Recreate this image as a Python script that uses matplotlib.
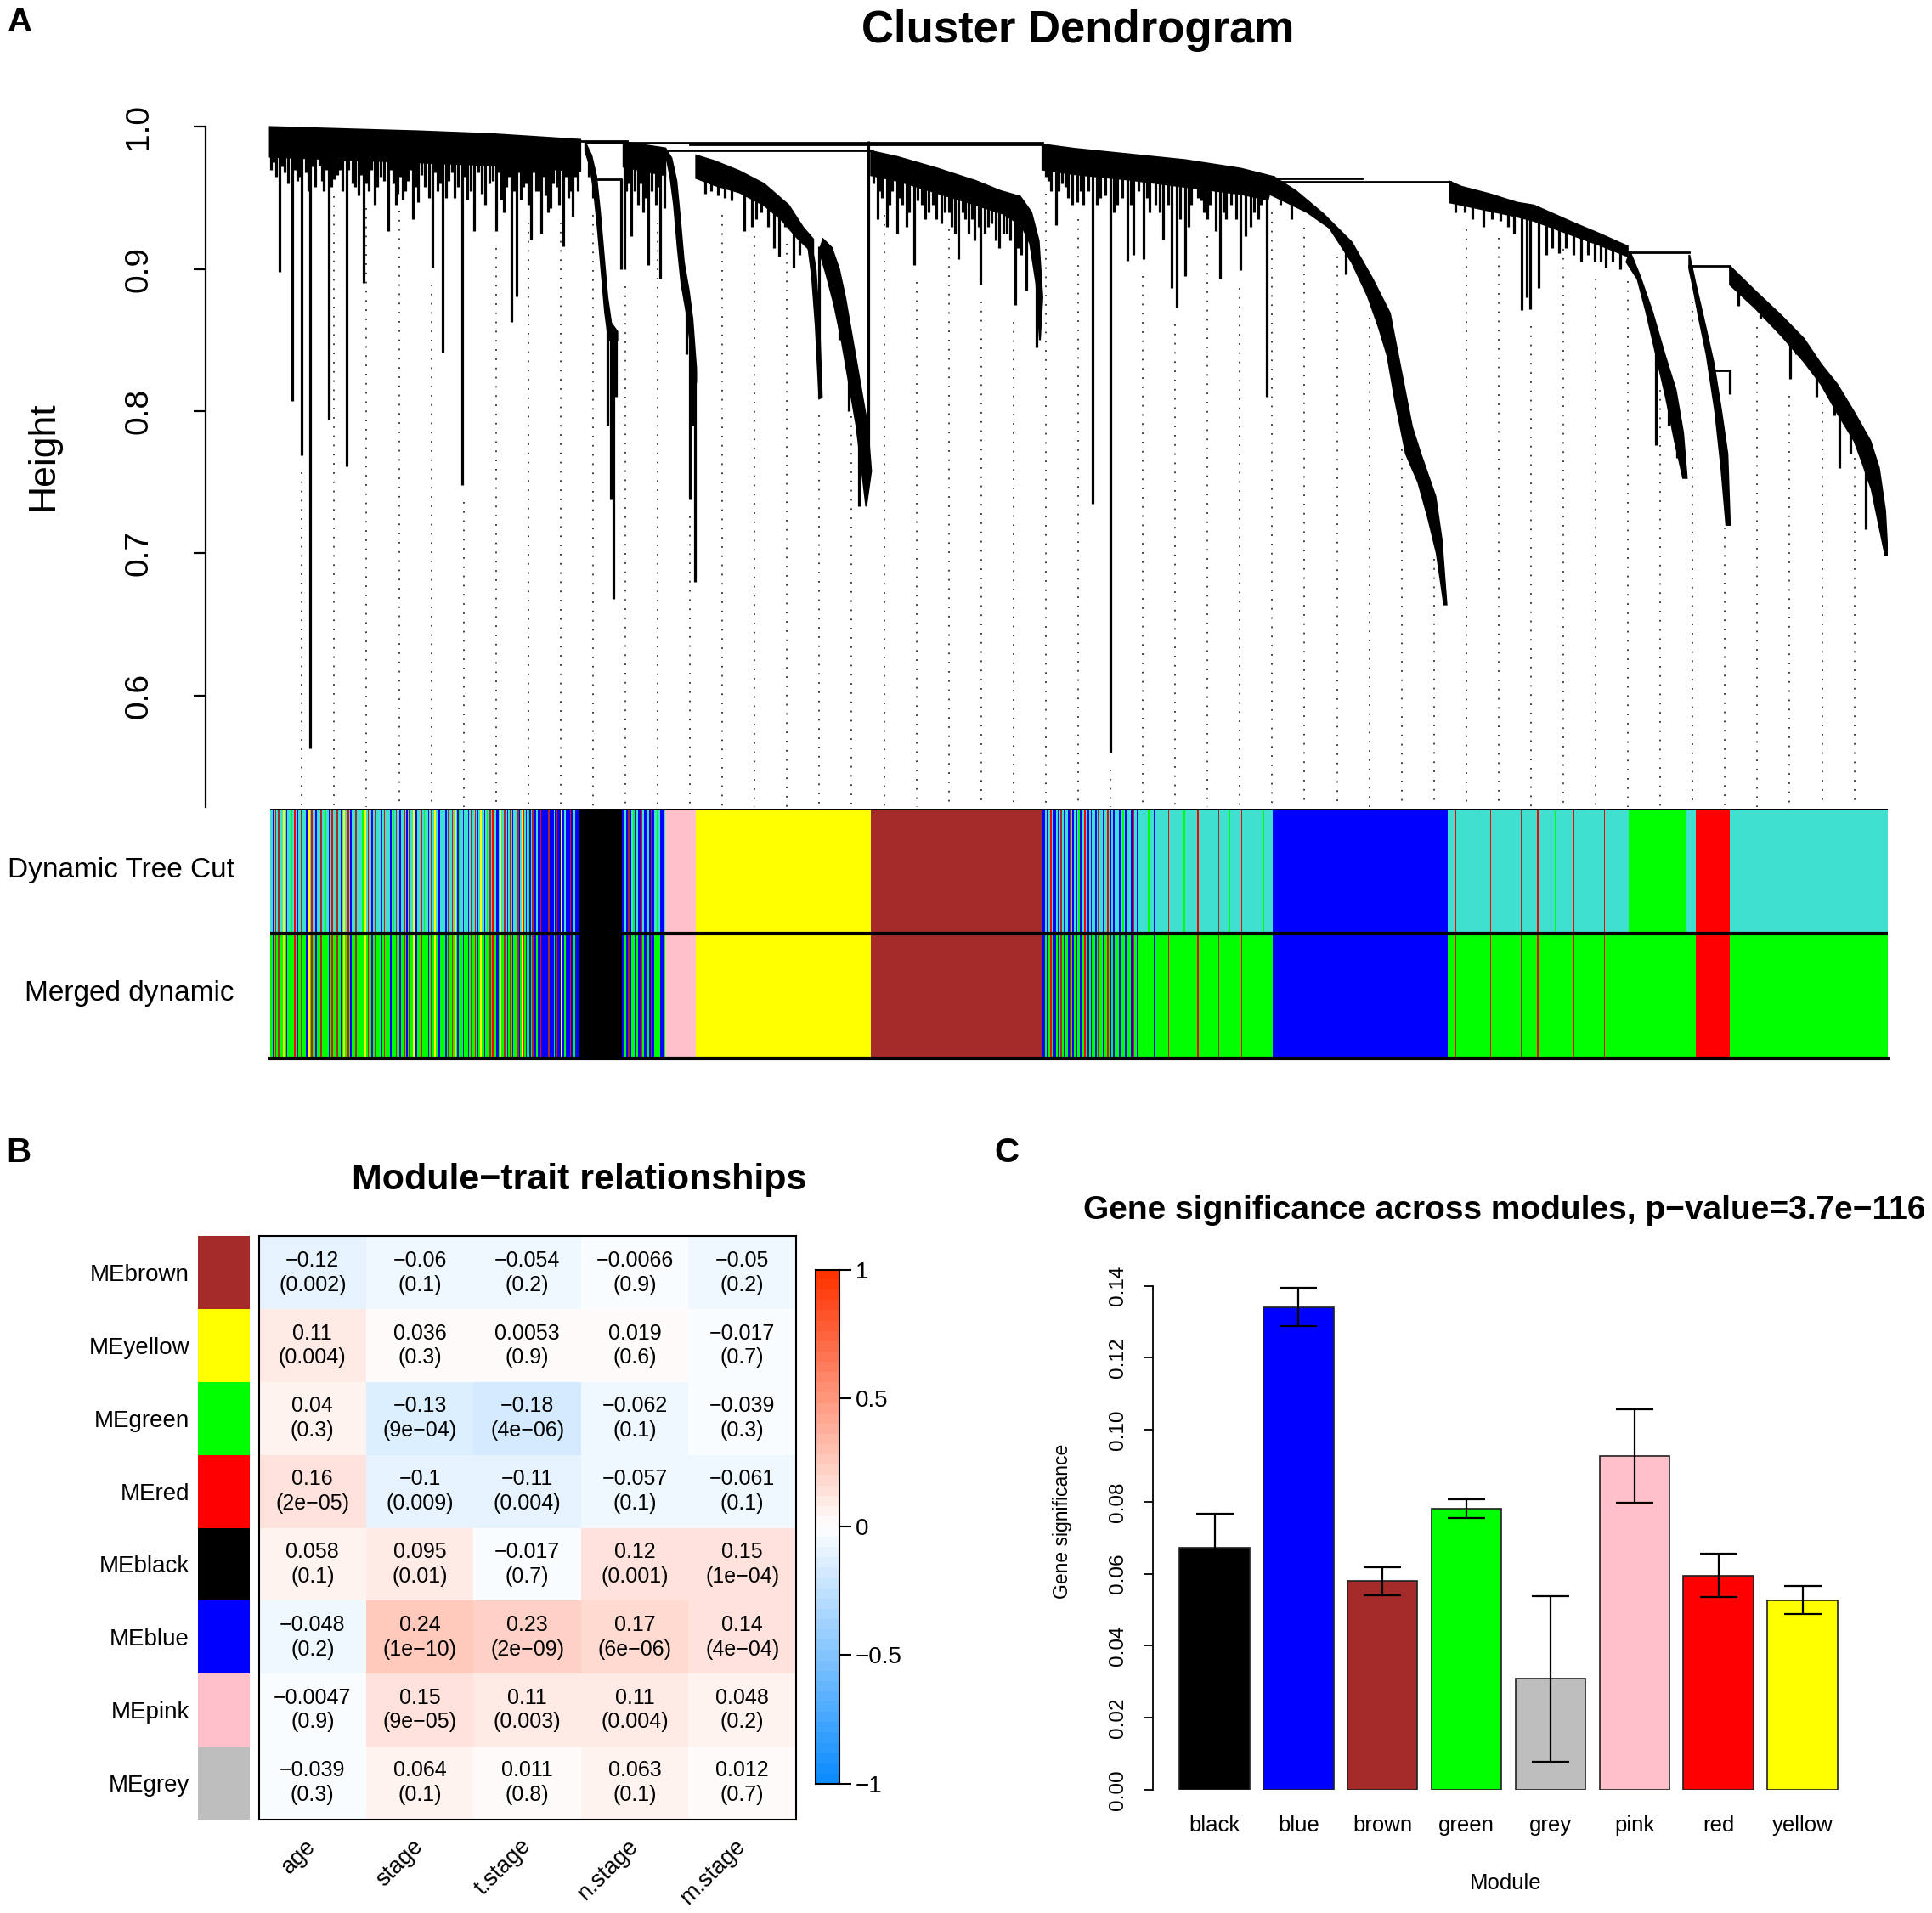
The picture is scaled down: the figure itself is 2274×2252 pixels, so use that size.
import numpy as np
import matplotlib
matplotlib.use('Agg')
import matplotlib.pyplot as plt
from matplotlib.colors import LinearSegmentedColormap

plt.rcParams['font.family'] = ['Liberation Sans', 'DejaVu Sans']

# layout was measured on a 1568 x 1552 copy of the figure
W, H = 1568.0, 1552.0

def box(x0, y0, x1, y1):
    return [x0 / W, 1 - y1 / H, (x1 - x0) / W, (y1 - y0) / H]

def at(x, y):
    return x / W, 1 - y / H

# ---------------- A: dendrogram, x = leaf order (0..1313), y = height
# dense clades: upper edge (merge heights), lower edge (leaf tips)
clades = [
    ([(0, 1.000), (60, 0.9985), (120, 0.997), (180, 0.995), (252, 0.991)],
     [(0, 0.979), (60, 0.977), (120, 0.975), (180, 0.973), (252, 0.969)]),
    ([(256, 0.989), (261, 0.980), (265, 0.965), (268, 0.94), (271, 0.91), (274, 0.88), (277, 0.862), (282, 0.856)],
     [(256, 0.983), (260, 0.972), (263, 0.955), (266, 0.93), (269, 0.90), (272, 0.87), (275, 0.85), (282, 0.85)]),
    ([(287, 0.9895), (321, 0.985)],
     [(287, 0.972), (321, 0.966)]),
    ([(321, 0.985), (326, 0.978), (330, 0.962), (333, 0.935), (336, 0.905), (340, 0.885), (343, 0.865), (346, 0.83)],
     [(322, 0.978), (325, 0.965), (328, 0.945), (331, 0.915), (334, 0.89), (338, 0.87), (341, 0.85), (346, 0.82)]),
    ([(346, 0.980), (361, 0.976), (381, 0.969), (401, 0.960), (421, 0.945), (433, 0.929), (441, 0.921)],
     [(346, 0.964), (361, 0.959), (381, 0.954), (401, 0.945), (415, 0.935), (428, 0.922), (441, 0.911)]),
    ([(439, 0.921), (443, 0.90), (446, 0.86), (448, 0.81)],
     [(437, 0.915), (440, 0.895), (443, 0.86), (446, 0.809)]),
    ([(449, 0.921), (456, 0.915), (462, 0.90), (467, 0.88), (473, 0.85), (479, 0.82), (485, 0.79), (488, 0.758)],
     [(446, 0.913), (452, 0.895), (458, 0.875), (464, 0.85), (470, 0.82), (476, 0.79), (481, 0.755), (484, 0.733)]),
    ([(488, 0.983), (509, 0.979), (541, 0.971), (573, 0.962), (593, 0.955), (609, 0.951), (618, 0.94), (624, 0.92), (627, 0.88)],
     [(488, 0.966), (510, 0.962), (540, 0.954), (570, 0.946), (595, 0.939), (610, 0.931), (617, 0.918), (622, 0.89), (625, 0.85)]),
    ([(627, 0.9877), (653, 0.9847), (698, 0.9807), (743, 0.9767), (788, 0.9707), (815, 0.9648)],
     [(627, 0.970), (653, 0.9667), (698, 0.9628), (743, 0.9578), (788, 0.9528), (810, 0.9488)]),
    ([(815, 0.9648), (833, 0.9548), (855, 0.9388), (878, 0.9189), (895, 0.893), (909, 0.869), (918, 0.829),
      (927, 0.789), (934, 0.77), (940, 0.755), (946, 0.74), (951, 0.71), (955, 0.664)],
     [(811, 0.953), (842, 0.940), (860, 0.929), (878, 0.905), (891, 0.881), (900, 0.859), (907, 0.839),
      (913, 0.809), (922, 0.77), (932, 0.75), (940, 0.725), (947, 0.70), (953, 0.664)]),
    ([(958, 0.9614), (967, 0.958), (990, 0.9528), (1012, 0.9468), (1026, 0.9448), (1057, 0.9329), (1079, 0.9249), (1102, 0.916)],
     [(958, 0.9468), (990, 0.941), (1012, 0.937), (1026, 0.9339), (1057, 0.9239), (1079, 0.917), (1102, 0.909)]),
    ([(1104, 0.912), (1112, 0.895), (1122, 0.87), (1132, 0.84), (1141, 0.815), (1147, 0.785), (1150, 0.753)],
     [(1101, 0.905), (1110, 0.893), (1117, 0.87), (1125, 0.84), (1133, 0.81), (1140, 0.78), (1147, 0.753)]),
    ([(1152, 0.910), (1157, 0.89), (1165, 0.86), (1172, 0.833), (1178, 0.80), (1183, 0.77), (1185, 0.72)],
     [(1152, 0.900), (1155, 0.888), (1160, 0.865), (1166, 0.84), (1173, 0.80), (1178, 0.76), (1182, 0.72)]),
    ([(1185, 0.902), (1205, 0.885), (1227, 0.867), (1245, 0.851), (1259, 0.833), (1272, 0.819), (1286, 0.799),
      (1299, 0.779), (1306, 0.76), (1311, 0.73), (1313, 0.699)],
     [(1185, 0.889), (1205, 0.873), (1227, 0.853), (1245, 0.835), (1259, 0.819), (1272, 0.799), (1286, 0.779),
      (1292, 0.765), (1300, 0.745), (1306, 0.72), (1311, 0.699)]),
]

# single leaves hanging below the clades: (leaf, tip height)
hairs = [
    (3, 0.975), (8, 0.898), (12, 0.968), (18, 0.807), (22, 0.962), (26, 0.769), (33, 0.5625), (37, 0.958),
    (40, 0.973), (44, 0.955), (48, 0.794), (52, 0.963), (57, 0.97), (62, 0.761), (67, 0.96), (72, 0.952),
    (76, 0.89), (80, 0.955), (85, 0.945), (90, 0.965), (96, 0.927), (100, 0.96), (104, 0.953), (108, 0.949),
    (112, 0.962), (116, 0.935), (120, 0.947), (126, 0.958), (132, 0.901), (136, 0.955), (140, 0.841),
    (145, 0.962), (150, 0.95), (156, 0.748), (160, 0.949), (166, 0.927), (172, 0.953), (178, 0.96),
    (184, 0.927), (188, 0.949), (192, 0.958), (196, 0.863), (200, 0.881), (204, 0.949), (208, 0.96),
    (212, 0.921), (216, 0.955), (220, 0.925), (224, 0.952), (228, 0.943), (233, 0.958), (238, 0.916),
    (242, 0.95), (246, 0.937), (250, 0.955),
    (1, 0.97), (5, 0.965), (10, 0.972), (15, 0.96), (20, 0.97), (24, 0.965), (29, 0.968), (31, 0.955),
    (35, 0.972), (42, 0.962), (46, 0.97), (50, 0.958), (55, 0.966), (59, 0.955), (64, 0.97), (69, 0.958),
    (74, 0.966), (78, 0.96), (82, 0.97), (87, 0.958), (93, 0.962), (98, 0.97), (102, 0.945), (106, 0.965),
    (110, 0.955), (114, 0.97), (118, 0.958), (123, 0.966), (129, 0.95), (134, 0.968), (138, 0.96),
    (143, 0.95), (148, 0.968), (153, 0.958), (158, 0.965), (163, 0.955), (169, 0.968), (175, 0.945),
    (181, 0.962), (186, 0.968), (190, 0.94), (194, 0.965), (198, 0.955), (202, 0.968), (206, 0.958),
    (210, 0.945), (214, 0.968), (218, 0.955), (222, 0.965), (226, 0.94), (230, 0.96), (235, 0.945),
    (240, 0.965), (244, 0.955), (248, 0.965),
    (259, 0.965), (262, 0.95), (274, 0.79), (277, 0.738), (279, 0.668), (281, 0.81),
    (288, 0.90), (291, 0.96), (293, 0.923), (296, 0.955), (299, 0.945), (303, 0.94), (307, 0.903),
    (310, 0.955), (313, 0.945), (317, 0.893), (320, 0.943), (289, 0.955), (301, 0.96), (305, 0.95),
    (315, 0.958),
    (338, 0.84), (341, 0.738), (343, 0.79), (345, 0.68),
    (353, 0.953), (358, 0.955), (369, 0.95), (385, 0.927), (391, 0.93), (399, 0.94), (409, 0.915),
    (413, 0.909), (418, 0.93), (425, 0.901), (430, 0.91), (364, 0.952), (375, 0.948), (395, 0.935),
    (404, 0.93),
    (444, 0.85), (446, 0.809), (462, 0.85), (470, 0.80), (478, 0.733), (486, 0.758),
    (490, 0.96), (493, 0.935), (497, 0.95), (501, 0.93), (505, 0.955), (509, 0.925), (513, 0.945),
    (517, 0.93), (523, 0.903), (529, 0.945), (535, 0.94), (541, 0.935), (548, 0.94), (553, 0.93),
    (559, 0.907), (564, 0.935), (567, 0.925), (572, 0.92), (577, 0.889), (583, 0.93), (589, 0.92),
    (595, 0.925), (601, 0.92), (605, 0.875), (610, 0.91), (614, 0.885), (622, 0.845),
    (495, 0.955), (503, 0.945), (511, 0.95), (519, 0.94), (526, 0.948), (532, 0.935), (538, 0.945),
    (545, 0.932), (551, 0.94), (556, 0.925), (562, 0.94), (570, 0.935), (575, 0.93), (580, 0.925),
    (586, 0.932), (592, 0.915), (598, 0.925), (607, 0.915),
    (630, 0.965), (634, 0.955), (638, 0.931), (643, 0.96), (648, 0.95), (655, 0.947), (660, 0.945),
    (664, 0.955), (668, 0.735), (674, 0.95), (682, 0.5596), (688, 0.945), (692, 0.95), (696, 0.906),
    (701, 0.91), (705, 0.955), (709, 0.907), (714, 0.94), (719, 0.945), (725, 0.921), (732, 0.887),
    (736, 0.873), (743, 0.895), (748, 0.945), (753, 0.95), (758, 0.94), (763, 0.945), (768, 0.927),
    (771, 0.893), (776, 0.935), (780, 0.945), (788, 0.899), (792, 0.923), (799, 0.94), (804, 0.945),
    (809, 0.81), (632, 0.962), (640, 0.955), (646, 0.958), (651, 0.945), (658, 0.955), (671, 0.945),
    (678, 0.952), (685, 0.94), (699, 0.945), (712, 0.95), (722, 0.94), (729, 0.945), (739, 0.935),
    (746, 0.93), (756, 0.948), (761, 0.935), (774, 0.94), (784, 0.935), (796, 0.93), (802, 0.935),
    (820, 0.945), (829, 0.935), (873, 0.896),
    (962, 0.94), (970, 0.94), (976, 0.935), (985, 0.93), (992, 0.935), (999, 0.934), (1005, 0.93),
    (1010, 0.925), (1016, 0.871), (1020, 0.88), (1023, 0.872), (1030, 0.887), (1036, 0.91), (1041, 0.915),
    (1046, 0.911), (1052, 0.915), (1058, 0.91), (1064, 0.905), (1070, 0.91), (1075, 0.905), (1080, 0.905),
    (1084, 0.901), (1090, 0.905), (1096, 0.9),
    (1125, 0.776), (1135, 0.79), (1142, 0.767),
    (1192, 0.874), (1210, 0.865), (1234, 0.823), (1239, 0.84), (1255, 0.81), (1270, 0.797), (1274, 0.76),
    (1283, 0.77), (1295, 0.717), (1302, 0.74),
]
# leaves hanging straight from a merge: (leaf, merge height, tip height)
stubs = [(285, 0.963, 0.90), (1185, 0.829, 0.812)]
# horizontal merge lines: (from leaf, to leaf, height)
merges = [(250, 290, 0.990), (257, 627, 0.9890), (341, 627, 0.9877), (321, 489, 0.9837), (266, 285, 0.963),
          (815, 886, 0.9637), (819, 958, 0.9614), (1102, 1152, 0.912), (1152, 1185, 0.902), (1172, 1185, 0.829)]

# module colour rows, one letter per stripe, with the leaf count each run covers
module_colors = {'t': '#40E0D0', 'b': '#0000FF', 'n': '#A52A2A', 'y': '#FFFF00', 'g': '#00FF00',
                 'r': '#FF0000', 'k': '#000000', 'p': '#FFC0CB'}
dynamic_runs = [
    ('ttbtrtntttytbtttgtrtbttntttbtytrttbtttnttgttbtrtt'
     'tnttbtyttrtbtttntbttgtytrttbtnttttbtrtyttbtgtnttb'
     'ttrtbtnttytbtttrtgttbtnttytrbttttbtnttrtytbgttbtr'
     'tbtnttrtbtyttbtgtntrttbbtyttntbtrtbtttnbtyrtbtgbtn'
     'bbtbbrbbtbbnbbbtbrbbybbtbbbrbbtbbb', 251),
    ('k', 35),
    ('btbnbtgbtbrtbbtbnbtgtbbt', 35),
    ('p', 25),
    ('y', 142),
    ('n', 139),
    ('bbtbtrtbbtbtntbttbrtbtbtgbttrtbtbttbtnttbttrtbtbtttbtgtbtttbrttbtttbttgtttbtt', 94),
    ('ttttttttrttttttttttttgttttttttttrttttttttttttttttnttttttttgtttttttttrtttttttttttttttttgttttttt', 93),
    ('b', 142),
    ('ttttttrttttttttttttttttgttttttttttrttttttttttttttttttttttttnttttttttttttrttttttttttttt'
     'gttttttttttttttrttttttttttttttttttttttttrttttttttttttttttttt', 147),
    ('g', 47),
    ('t', 7),
    ('r', 28),
    ('t', 128),
]
merged_from = {'t': 'g'}   # turquoise merged into green

# ---------------- B: module-trait table
traits = ['age', 'stage', 't.stage', 'n.stage', 'm.stage']
me_names = ['MEbrown', 'MEyellow', 'MEgreen', 'MEred', 'MEblack', 'MEblue', 'MEpink', 'MEgrey']
me_colors = ['#A52A2A', '#FFFF00', '#00FF00', '#FF0000', '#000000', '#0000FF', '#FFC0CB', '#BEBEBE']
trait_cor = [
    [-0.12, -0.06, -0.054, -0.0066, -0.05],
    [0.11, 0.036, 0.0053, 0.019, -0.017],
    [0.04, -0.13, -0.18, -0.062, -0.039],
    [0.16, -0.1, -0.11, -0.057, -0.061],
    [0.058, 0.095, -0.017, 0.12, 0.15],
    [-0.048, 0.24, 0.23, 0.17, 0.14],
    [-0.0047, 0.15, 0.11, 0.11, 0.048],
    [-0.039, 0.064, 0.011, 0.063, 0.012],
]
trait_p = [
    ['0.002', '0.1', '0.2', '0.9', '0.2'],
    ['0.004', '0.3', '0.9', '0.6', '0.7'],
    ['0.3', '9e-04', '4e-06', '0.1', '0.3'],
    ['2e-05', '0.009', '0.004', '0.1', '0.1'],
    ['0.1', '0.01', '0.7', '0.001', '1e-04'],
    ['0.2', '1e-10', '2e-09', '6e-06', '4e-04'],
    ['0.9', '9e-05', '0.003', '0.004', '0.2'],
    ['0.3', '0.1', '0.8', '0.1', '0.7'],
]

# ---------------- C: gene significance per module
gs_modules = ['black', 'blue', 'brown', 'green', 'grey', 'pink', 'red', 'yellow']
gs_colors = ['#000000', '#0000FF', '#A52A2A', '#00FF00', '#BEBEBE', '#FFC0CB', '#FF0000', '#FFFF00']
gs_mean = [0.0672, 0.1340, 0.0579, 0.0781, 0.0308, 0.0927, 0.0595, 0.0527]
gs_err = [0.0095, 0.0053, 0.0039, 0.0026, 0.0230, 0.0130, 0.0060, 0.0039]


def mm(s):
    return s.replace('-', '\u2212')


fig = plt.figure(figsize=(22.74, 22.52), dpi=100)

# ===== panel A
ax = fig.add_axes(box(167, 95, 1532, 655))
ax.set_xlim(-52, 1313)
ax.set_ylim(0.52125, 1.00694)

for up, lo in clades:
    pts = up + lo[::-1]
    ax.fill([p[0] for p in pts], [p[1] for p in pts], color='black', lw=1.5)


def lower_edge(x):
    vals = []
    for up, lo in clades:
        xs = [p[0] for p in lo]
        if xs[0] <= x <= xs[-1]:
            vals.append(np.interp(x, xs, [p[1] for p in lo]))
    return vals


for x, tip in hairs:
    e = lower_edge(x)
    top = max(e) + 0.003 if e else 0.99
    ax.plot([x, x], [top, tip], color='black', lw=2.3, solid_capstyle='butt')
for x, top, tip in stubs:
    ax.plot([x, x], [top, tip], color='black', lw=2.3, solid_capstyle='butt')
for x1, x2, h in merges:
    ax.plot([x1, x2], [h, h], color='black', lw=2.0)

# guide lines every ~26 leaves, starting just under the lowest branch
guides = np.arange(26, 1300, 26.25)
for g in guides:
    e = lower_edge(g)
    low = min(e) if e else 0.99
    for x, tip in hairs:
        if abs(x - g) < 2.0:
            low = min(low, tip)
    ax.plot([g, g], [low - 0.012, 0.52125], color='#303030', lw=1.3,
            linestyle=(0, (1, 5)), clip_on=False)

for s in ['top', 'right', 'bottom']:
    ax.spines[s].set_visible(False)
ax.spines['left'].set_bounds(0.52125, 1.0)
ax.spines['left'].set_linewidth(1.6)
ax.set_xticks([])
ax.set_yticks([0.6, 0.7, 0.8, 0.9, 1.0])
ax.set_yticklabels(['0.6', '0.7', '0.8', '0.9', '1.0'], rotation=90, va='center', fontsize=28)
ax.tick_params(axis='y', length=10, width=1.6, pad=34)

fig.text(*at(35, 370), 'Height', rotation=90, ha='center', va='center', fontsize=32)
fig.text(*at(875, 25), 'Cluster Dendrogram', ha='center', va='center', fontsize=38, fontweight='bold')
fig.text(*at(16, 18), 'A', ha='center', va='center', fontsize=29, fontweight='bold')

# module colour rows
axc = fig.add_axes(box(219, 656, 1532, 859))
axc.set_xlim(0, 1313)
axc.set_ylim(0, 2)
axc.axis('off')
for row, mapping in [(1, {}), (0, merged_from)]:
    start = 0
    for pattern, n in dynamic_runs:
        w = n / len(pattern)
        lefts = start + w * np.arange(len(pattern))
        cols = [module_colors[mapping.get(c, c)] for c in pattern]
        axc.bar(lefts, 1, width=w * 1.02, bottom=row, align='edge', color=cols, linewidth=0)
        start += n
axc.plot([0, 1313], [2, 2], color='black', lw=1.5)
axc.plot([0, 1313], [1, 1], color='black', lw=3)
axc.plot([0, 1313], [0, 0], color='black', lw=3, clip_on=False)
fig.text(*at(190, 706), 'Dynamic Tree Cut', ha='right', va='center', fontsize=24)
fig.text(*at(190, 806), 'Merged dynamic', ha='right', va='center', fontsize=24)

# ===== panel B
bwr = LinearSegmentedColormap.from_list(
    'bwr_wgcna', [(0.05, 0.55, 1.0), (1, 1, 1), (1.0, 0.2, 0.0)], N=50)
axh = fig.add_axes(box(210, 1003, 646, 1476))
cor = np.array(trait_cor)
axh.pcolormesh(np.arange(6), np.arange(9), cor, cmap=bwr, vmin=-1, vmax=1)
axh.set_xlim(0, 5)
axh.set_ylim(8, 0)
for i in range(len(me_names)):
    for j in range(len(traits)):
        axh.text(j + 0.5, i + 0.5, mm(f'{trait_cor[i][j]:g}') + '\n(' + mm(trait_p[i][j]) + ')',
                 ha='center', va='center', fontsize=18, linespacing=1.25)
for s in axh.spines.values():
    s.set_linewidth(1.5)
axh.set_yticks([])
axh.set_xticks(np.arange(5) + 0.5)
axh.set_xticklabels(traits, rotation=45, ha='right', va='center', rotation_mode='anchor', fontsize=19.5)
axh.tick_params(axis='x', length=0, pad=20)

axm = fig.add_axes(box(160.5, 1003, 203, 1476))
axm.bar(np.zeros(8), 1, width=1, bottom=np.arange(8), align='edge', color=me_colors, linewidth=0)
axm.set_xlim(0, 1)
axm.set_ylim(8, 0)
for s in axm.spines.values():
    s.set_visible(False)
axm.set_xticks([])
axm.set_yticks(np.arange(8) + 0.5)
axm.set_yticklabels(me_names, fontsize=20)
axm.tick_params(axis='y', length=0, pad=7)

axcb = fig.add_axes(box(662, 1030, 681.6, 1447))
axcb.imshow(np.linspace(-1, 1, 200).reshape(-1, 1), cmap=bwr, vmin=-1, vmax=1, aspect='auto',
            origin='lower', extent=[0, 1, -1, 1])
axcb.set_xticks([])
axcb.yaxis.tick_right()
axcb.set_yticks([-1, -0.5, 0, 0.5, 1])
axcb.set_yticklabels(['\u22121', '\u22120.5', '0', '0.5', '1'], fontsize=20)
axcb.tick_params(axis='y', length=10, width=1.5, pad=3)
for s in axcb.spines.values():
    s.set_linewidth(1.5)

fig.text(*at(470, 957), 'Module\u2212trait relationships', ha='center', va='center', fontsize=31,
         fontweight='bold')
fig.text(*at(15, 935), 'B', ha='center', va='center', fontsize=29, fontweight='bold')

# ===== panel C
axb = fig.add_axes(box(936, 1026.7, 1512.6, 1452))
xb = 0.7 + 1.2 * np.arange(len(gs_modules))
axb.bar(xb, gs_mean, width=1.0, color=gs_colors, edgecolor='#202020', linewidth=1.2)
axb.errorbar(xb, gs_mean, yerr=gs_err, fmt='none', ecolor='black', elinewidth=1.6,
             capsize=15.5, capthick=1.6)
axb.set_xlim(-0.176, 9.976)
axb.set_ylim(0, 0.1456)
for s in ['top', 'right', 'bottom']:
    axb.spines[s].set_visible(False)
axb.spines['left'].set_bounds(0, 0.14)
axb.spines['left'].set_linewidth(1.3)
axb.set_yticks(np.arange(0, 0.141, 0.02))
axb.set_yticklabels([f'{v:.2f}' for v in np.arange(0, 0.141, 0.02)], rotation=90, va='center',
                    fontsize=17.5)
axb.tick_params(axis='y', length=8, width=1.3, pad=14)
axb.set_xticks(xb)
axb.set_xticklabels(gs_modules, fontsize=18.5)
axb.tick_params(axis='x', length=0, pad=22)
fig.text(*at(1222, 1528), 'Module', ha='center', va='center', fontsize=18.5)
fig.text(*at(862, 1234), 'Gene significance', rotation=90, ha='center', va='center', fontsize=16.5)
fig.text(*at(1221, 982), 'Gene significance across modules, p\u2212value=3.7e\u2212116', ha='center',
         va='center', fontsize=28, fontweight='bold')
fig.text(*at(817, 935), 'C', ha='center', va='center', fontsize=29, fontweight='bold')

fig.savefig('out.png', dpi=100)
